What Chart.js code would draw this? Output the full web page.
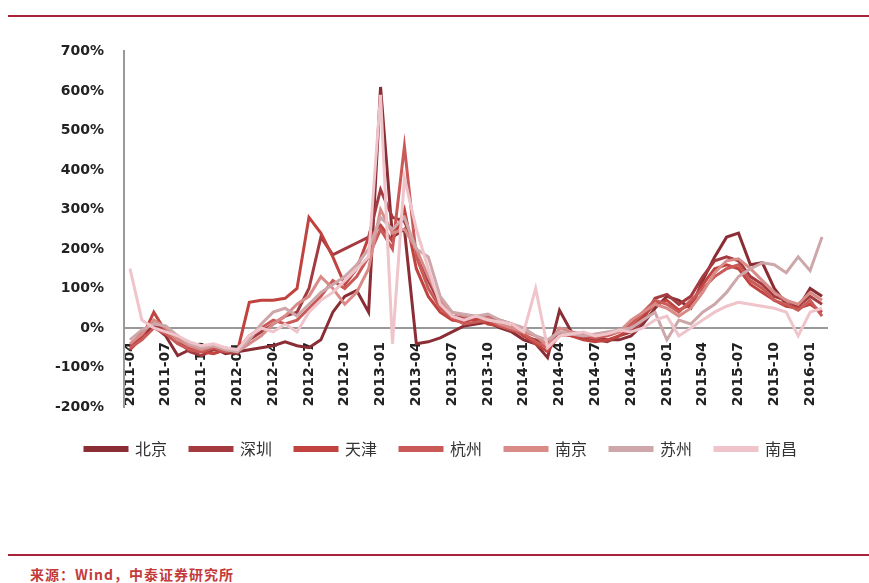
<!DOCTYPE html>
<html>
<head>
<meta charset="utf-8">
<script src="https://cdn.jsdelivr.net/npm/chart.js@4"></script>
<style>
  body { margin: 0; background: #fff; }
  #page { position: relative; width: 869px; height: 583px; overflow: hidden; }
  .rule { position: absolute; left: 8px; right: 0; height: 2px; background: #a8233a; }
  #wrap { position: absolute; left: 0; top: 23px; width: 869px; height: 464px; }
  #source { position: absolute; left: 30px; top: 564px; font: bold 14px "Noto Sans CJK SC", sans-serif; color: #c33a3a; letter-spacing: 1px; }
</style>
</head>
<body>
<div id="page">
  <div class="rule" style="top:15px"></div>
  <div id="wrap"><canvas id="cityChart"></canvas></div>
  <div class="rule" style="top:554px"></div>
  <div id="source">来源：Wind，中泰证券研究所</div>
</div>
<script>
// 月份 2011-04 ~ 2016-02
const months = [
  '2011-04','2011-05','2011-06','2011-07','2011-08','2011-09','2011-10','2011-11','2011-12',
  '2012-01','2012-02','2012-03','2012-04','2012-05','2012-06','2012-07','2012-08','2012-09','2012-10','2012-11','2012-12',
  '2013-01','2013-02','2013-03','2013-04','2013-05','2013-06','2013-07','2013-08','2013-09','2013-10','2013-11','2013-12',
  '2014-01','2014-02','2014-03','2014-04','2014-05','2014-06','2014-07','2014-08','2014-09','2014-10','2014-11','2014-12',
  '2015-01','2015-02','2015-03','2015-04','2015-05','2015-06','2015-07','2015-08','2015-09','2015-10','2015-11','2015-12',
  '2016-01','2016-02'
];

const cities = ['北京', '深圳', '天津', '杭州', '南京', '苏州', '南昌'];

// 同比增速 (%)
const beijing  = [-45,-20,5,-20,-70,-55,-60,-50,-65, -60,-55,-50,-45,-35,-45,-50,-30,40,80,95,40, 610,230,250,-40,-35,-25,-10,5,10,15,0,-10, -30,-40,-75,45,-10,-20,-25,-30,-30,-20,10,50, 80,70,50,120,180,230,240,160,165,100,60,50, 100,80];
const shenzhen = [-50,-10,10,-5,-30,-60,-70,-55,-60, -65,-30,-10,10,30,40,100,230,185,200,215,230, 350,280,270,200,120,60,30,25,20,30,20,10, -20,-30,-40,-10,-20,-25,-30,-35,-20,-10,20,75, 85,60,80,130,170,180,170,130,110,80,70,55, 80,60];
const tianjin  = [-55,-25,40,-10,-20,-50,-60,-65,-55, -60,65,70,70,75,100,280,240,180,110,150,230, 260,220,300,150,80,40,20,15,25,10,5,0, -20,-40,-60,-15,-20,-30,-35,-30,-20,0,30,60, 70,45,60,110,150,160,150,110,90,70,55,50, 60,40];
const hangzhou = [-50,-30,0,-15,-40,-55,-60,-50,-60, -55,-20,0,20,10,20,50,80,120,100,130,180, 250,200,460,180,100,50,25,10,15,20,5,-5, -15,-35,-50,-20,-15,-20,-25,-20,-10,10,40,70, 60,40,70,100,130,150,160,120,100,70,60,45, 70,30];
const nanjing  = [-40,-15,20,0,-30,-45,-55,-45,-50, -60,-40,-20,10,30,60,80,130,100,60,90,150, 300,240,250,200,130,70,40,30,30,25,10,0, -10,-20,-45,0,-10,-15,-20,-15,-10,20,40,60, 50,30,50,90,140,170,175,150,120,90,70,60, 90,70];
const suzhou   = [-30,-5,10,5,-20,-40,-50,-45,-55, -60,-30,10,40,50,30,60,90,110,130,160,200, 280,250,280,200,180,80,40,35,30,35,20,10, 0,-20,-30,-10,-15,-20,-15,-10,-5,0,20,40, -30,20,10,40,60,90,130,150,165,160,140,180, 145,230];
const nanchang = [150,20,0,-10,-20,-35,-45,-40,-50, -55,-20,0,-10,10,-10,40,70,90,120,150,180, 590,-40,380,250,150,60,30,20,30,20,15,10, -10,100,-50,-20,-15,-10,-20,-15,-5,-10,0,20, 30,-20,0,20,40,55,65,60,55,50,40,-20, 40,50];

const series = [beijing, shenzhen, tianjin, hangzhou, nanjing, suzhou, nanchang];
const colors = ['#8b2d35', '#a33b40', '#c0433f', '#c95a58', '#d98b88', '#cda7a9', '#efc4cb'];

const yTicks = [-200, -100, 0, 100, 200, 300, 400, 500, 600, 700];

const tickFont = { family: 'DejaVu Sans', size: 14, weight: 'bold' };

const data = {
  labels: months,
  datasets: cities.map((name, i) => ({
    label: name,
    data: series[i],
    borderColor: colors[i],
    backgroundColor: colors[i],
    borderWidth: 3,
    pointRadius: 0,
    tension: 0,
    order: cities.length - i   // 后面的系列画在上层
  }))
};

const config = {
  type: 'line',
  data: data,
  options: {
    responsive: true,
    maintainAspectRatio: false,
    animation: false,
    layout: { padding: { left: 54, right: 41, top: 14, bottom: 20 } },
    plugins: {
      tooltip: { enabled: false },
      legend: {
        position: 'bottom',
        title: { display: true, text: ' ', font: { size: 5 }, padding: { top: 5, bottom: 0 } },
        labels: {
          boxWidth: 42,
          boxHeight: 3,
          padding: 23,
          color: '#333',
          font: { family: 'Noto Sans CJK SC', size: 16 },
          sort: (a, b) => a.datasetIndex - b.datasetIndex
        }
      }
    },
    scales: {
      x: {
        position: { y: 0 },
        offset: true,
        grid: { display: false, drawTicks: false },
        border: { display: false },
        ticks: {
          autoSkip: false,
          minRotation: 90,
          maxRotation: 90,
          padding: 14,
          color: '#222',
          font: tickFont,
          callback: function (value, index) {
            return index % 3 === 0 ? months[index] : '';
          }
        }
      },
      y: {
        min: -200,
        max: 700,
        afterBuildTicks: (scale) => { scale.ticks = yTicks.map(v => ({ value: v })); },
        afterFit: (scale) => { scale.width = 70; },
        grid: {
          drawTicks: false,
          color: (ctx) => ctx.tick && ctx.tick.value === 0 ? '#999' : 'rgba(0,0,0,0)',
          lineWidth: 2
        },
        border: { display: true, color: '#999', width: 2 },
        ticks: {
          padding: 20,
          color: '#222',
          font: tickFont,
          callback: (v) => v + '%'
        }
      }
    }
  }
};

const cityChart = new Chart(document.getElementById('cityChart').getContext('2d'), config);
</script>
</body>
</html>
